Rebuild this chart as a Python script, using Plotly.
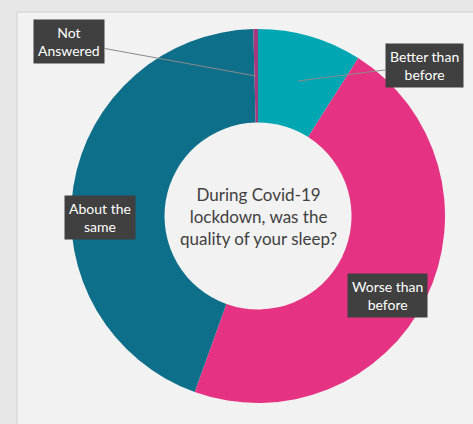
import plotly.graph_objects as go

labels = ["Better than before", "Worse than before", "About the same", "Not Answered"]
values = [9.0, 46.5, 44.1, 0.4]
colors = ["#00a6b2", "#e63282", "#0e6f8a", "#a3387a"]
label_text = ["Better than<br>before", "Worse than<br>before", "About the<br>same", "Not<br>Answered"]
center_text = "During Covid-19<br>lockdown, was the<br>quality of your sleep?"

W, H = 473, 424
def px(x): return x / W
def py(y): return 1 - y / H

fig = go.Figure(go.Pie(
    labels=labels, values=values, hole=0.5, sort=False, direction="clockwise",
    rotation=0, marker=dict(colors=colors, line=dict(width=0)),
    textinfo="none", hoverinfo="label+percent", showlegend=False,
    domain=dict(x=[px(71), px(445)], y=[py(403), py(29)]),
))

shapes = [
    dict(type="rect", xref="paper", yref="paper", x0=px(17), x1=px(480), y0=py(430), y1=py(12),
         fillcolor="#f2f2f2", line=dict(color="#cfcfcf", width=1), layer="below"),
]

lab_font = dict(family="Lato, Open Sans, sans-serif", size=14, color="white")
ann = []
# label boxes: (text, center x, center y, arrow tip or None)
boxes = [
    (label_text[0], 424, 65, (298, 81)),
    (label_text[1], 387, 295, None),
    (label_text[2], 100, 217, None),
    (label_text[3], 69, 42, (256, 76)),
]
for t, cx, cy, tip in boxes:
    if tip is None:
        ann.append(dict(x=px(cx), y=py(cy), xref="paper", yref="paper", text=t, showarrow=False,
                        xanchor="center", yanchor="middle",
                        font=lab_font, bgcolor="#404040", borderpad=4, align="center"))
    else:
        ann.append(dict(x=px(tip[0]), y=py(tip[1]), xref="paper", yref="paper", text=t,
                        showarrow=True, arrowhead=0, arrowwidth=1, arrowcolor="#8a8a8a",
                        ax=cx - tip[0], ay=cy - tip[1],
                        font=lab_font, bgcolor="#404040", borderpad=4, align="center"))
ann.append(dict(x=px(258), y=py(216), xref="paper", yref="paper", text=center_text, showarrow=False,
                xanchor="center", yanchor="middle",
                font=dict(family="Lato, Open Sans, sans-serif", size=17, color="#404040"), align="center"))

fig.update_layout(width=W, height=H, margin=dict(l=0, r=0, t=0, b=0),
                  paper_bgcolor="#e7e7e7", plot_bgcolor="#f2f2f2",
                  shapes=shapes, annotations=ann)
fig.write_html("out.html", config={"displayModeBar": False},
               post_script="document.body.style.margin='0';document.body.style.background='#e7e7e7';")
